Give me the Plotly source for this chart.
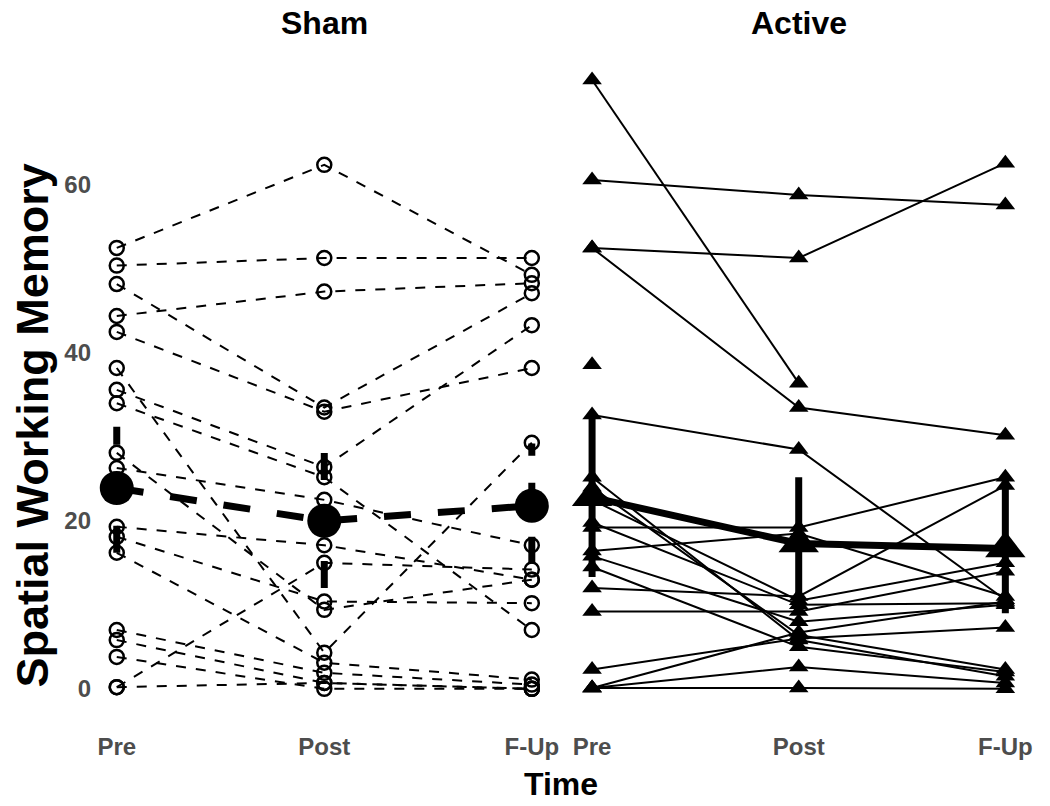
import plotly.graph_objects as go

# ---------------- data ----------------
times = ["Pre", "Post", "F-Up"]
groups = ["Sham", "Active"]
y_ticks = [0, 20, 40, 60]

sham_pre = [52.5, 50.4, 48.2, 44.4, 42.5, 38.2, 35.6, 34.0, 28.1, 26.3, 19.3, 18.1, 16.2, 7.0, 5.8, 0.2, 3.8, 0.2]
sham_post = [62.4, 51.3, 33.5, 47.3, 33.0, 4.3, 26.4, 25.2, 9.4, 22.5, 17.1, 10.4, 3.1, 1.9, 0.7, 15.0, 0.0, 0.7]
sham_fup = [49.3, 51.3, 47.1, 48.3, 38.2, 29.3, 43.3, 7.0, 13.0, 17.1, 13.0, 10.2, 1.1, 0.5, 0.0, 14.2, 0.0, 0.0]

active_pre = [72.5, 60.6, 52.5, 52.5, 38.6, 32.6, 25.2, 24.0, 22.5, 19.2, 19.8, 16.4, 15.8, 12.0, 9.2, 2.3, 0.1, 0.1, 0.1, 14.5]
active_post = [36.4, 58.8, 51.3, 33.5, None, 28.5, 5.8, 6.4, 10.5, 19.2, 10.0, 18.5, 8.0, 11.0, 9.2, 6.0, 6.7, 2.6, 0.1, 5.0]
active_fup = [None, 57.6, 62.6, 30.2, None, 10.6, 1.5, 2.3, 15.0, 25.2, 10.2, 11.0, 10.0, 24.2, 14.0, 7.3, 10.4, 0.7, 0.0, 2.0]

sham_mean = [23.9, 20.0, 21.8]
sham_lo = [16.2, 12.0, 14.9]
sham_hi = [31.2, 28.2, 29.2]

active_mean = [22.8, 17.3, 16.7]
active_lo = [13.3, 9.0, 9.0]
active_hi = [32.9, 25.2, 24.9]

# ---------------- figure ----------------
fig = go.Figure()

THIN_DASH = "10px,10px"
THICK_DASH = "27px,27px"

# Sham individual trajectories
for a, b, c in zip(sham_pre, sham_post, sham_fup):
    fig.add_trace(go.Scatter(
        x=times, y=[a, b, c], xaxis="x", yaxis="y",
        mode="lines+markers", connectgaps=False,
        line=dict(color="black", width=2, dash=THIN_DASH),
        marker=dict(symbol="circle-open", size=14, color="black",
                    line=dict(width=2.5, color="black")),
        showlegend=False, hoverinfo="skip"))

# Active individual trajectories
for a, b, c in zip(active_pre, active_post, active_fup):
    fig.add_trace(go.Scatter(
        x=times, y=[a, b, c], xaxis="x2", yaxis="y2",
        mode="lines+markers", connectgaps=False,
        line=dict(color="black", width=2),
        marker=dict(symbol="triangle-up", size=17, color="black"),
        showlegend=False, hoverinfo="skip"))

# Sham mean +/- error (dashed thick)
for t, lo, hi in zip(times, sham_lo, sham_hi):
    fig.add_trace(go.Scatter(
        x=[t, t], y=[lo, hi], xaxis="x", yaxis="y", mode="lines",
        line=dict(color="black", width=7, dash=THICK_DASH),
        showlegend=False, hoverinfo="skip"))
fig.add_trace(go.Scatter(
    x=times, y=sham_mean, xaxis="x", yaxis="y", mode="lines+markers",
    line=dict(color="black", width=7, dash=THICK_DASH),
    marker=dict(symbol="circle", size=34, color="black"),
    showlegend=False, hoverinfo="skip"))

# Active mean +/- error (solid thick)
for t, lo, hi in zip(times, active_lo, active_hi):
    fig.add_trace(go.Scatter(
        x=[t, t], y=[lo, hi], xaxis="x2", yaxis="y2", mode="lines",
        line=dict(color="black", width=7),
        showlegend=False, hoverinfo="skip"))
fig.add_trace(go.Scatter(
    x=times, y=active_mean, xaxis="x2", yaxis="y2", mode="lines+markers",
    line=dict(color="black", width=7),
    marker=dict(symbol="triangle-up", size=35, color="black"),
    showlegend=False, hoverinfo="skip"))

FONT = "Liberation Sans"
tick_font = dict(family=FONT, size=24, color="#4D4D4D", weight="bold")

xcommon = dict(type="category", categoryorder="array", categoryarray=times,
               range=[-0.1, 2.1], showgrid=False, zeroline=False,
               showline=False, ticks="", tickfont=tick_font,
               ticklabelstandoff=16)
ycommon = dict(range=[-3, 75], showgrid=False, zeroline=False,
               showline=False, ticks="", tickvals=y_ticks)

# page has an 8px body margin; figure sized to fit 1050x806 window
W, H = 1034, 790
ml, mr, mt, mb = 88, 9, 51, 84
pw = W - ml - mr
ph = H - mt - mb
OFF = 8  # body margin offset

fig.update_layout(
    width=W, height=H,
    margin=dict(l=ml, r=mr, t=mt, b=mb),
    paper_bgcolor="white", plot_bgcolor="white",
    xaxis=dict(domain=[0, 460 / pw], anchor="y", **xcommon),
    xaxis2=dict(domain=[(575 - OFF - ml) / pw, 1], anchor="y2", **xcommon),
    yaxis=dict(domain=[0, 1], anchor="x", tickfont=tick_font,
               ticklabelstandoff=4, **ycommon),
    yaxis2=dict(domain=[0, 1], anchor="x2", matches="y",
                showticklabels=False, **ycommon),
)

title_font = dict(family=FONT, size=32, color="black", weight="bold")
ytitle_font = dict(family=FONT, size=45, color="black", weight="bold")
plot_bottom = OFF + mt + ph
annotations = [
    dict(text=groups[0], x=0.5 * (460 / pw), y=1 + 36 / ph, xref="paper", yref="paper",
         xanchor="center", yanchor="middle", showarrow=False, font=title_font),
    dict(text=groups[1], x=0.5 * ((575 - OFF - ml) / pw + 1), y=1 + 36 / ph, xref="paper", yref="paper",
         xanchor="center", yanchor="middle", showarrow=False, font=title_font),
    dict(text="Time", x=(564 - OFF - ml) / pw, y=-(784 - plot_bottom) / ph, xref="paper", yref="paper",
         xanchor="center", yanchor="middle", showarrow=False, font=title_font),
    dict(text="Spatial Working Memory", x=(32 - OFF - ml) / pw, y=1 - (425 - OFF - mt) / ph,
         xref="paper", yref="paper",
         xanchor="center", yanchor="middle", showarrow=False, textangle=-90, font=ytitle_font),
]
fig.update_layout(annotations=annotations)

fig.write_html("out.html")
